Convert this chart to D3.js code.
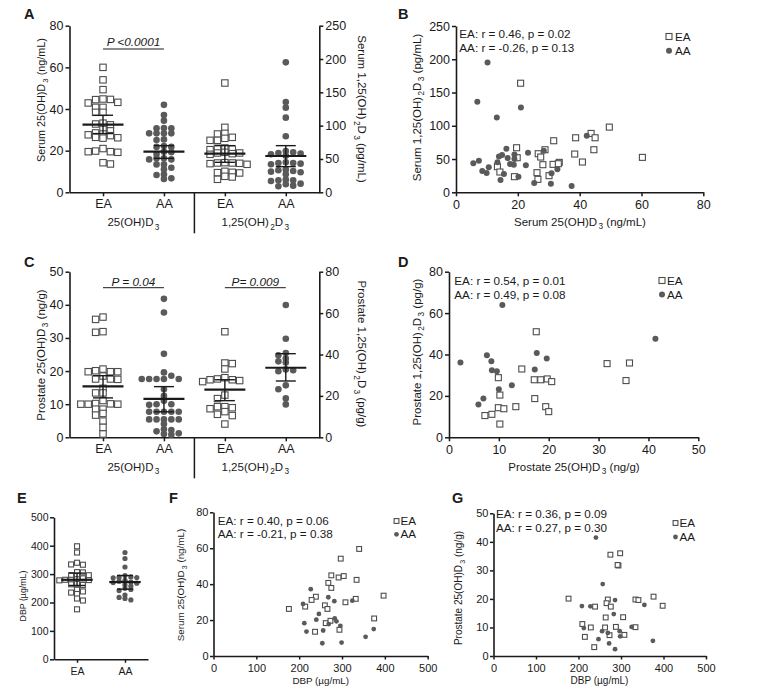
<!DOCTYPE html>
<html><head><meta charset="utf-8">
<script src="https://cdn.jsdelivr.net/npm/d3@7"></script>
<style>body{margin:0;background:#fff} svg{display:block}</style>
</head><body><script>
// ================= DATA =================
const catLabels = ["EA", "AA", "EA", "AA"];
const groupNames = ["25(OH)D_3", "1,25(OH)_2D_3"];
const legendNames = ["EA", "AA"];

// Panel A : serum
const serum25_EA = [60, 54, 49.3, 44.8, 44.6, 44.5, 43.2, 42.9, 40.8, 40.8, 38.4, 38.4, 33.2, 32.8, 32.4, 30.2, 29.5, 28.5, 28.0, 27.6, 27.2, 26.4, 26.2, 26.0, 21.0, 19.8, 19.5, 19.5, 19.2, 14.2, 13.6];
const serum25_AA = [42, 37.1, 34.4, 30.7, 30.7, 30.9, 28.3, 28.3, 28.3, 28.3, 25.1, 25.4, 22.2, 21.8, 21.8, 19.5, 19.2, 18.4, 16.3, 15.8, 16.3, 15.8, 13.4, 13.4, 11.1, 11.8, 8.6, 8.3, 6.4, 6.7];
const serum125_EA = [164, 97.5, 88.5, 87.5, 82.5, 81, 78, 78, 66.5, 66, 65, 64, 60, 59, 59, 58, 57, 44.5, 44, 44, 43.5, 43, 42, 31.5, 30, 29.5, 29, 24, 23, 19.5];
const serum125_AA = [195, 135.5, 127, 112, 84, 62, 60, 59, 58, 57, 55, 45, 44, 44, 43, 42, 34, 33, 32, 31, 30, 27, 19, 18, 18, 17, 13, 12, 10, 9];
const A_mean = [32.5, 19.5, 58, 54.5];
const A_low = [28.2, 16.3, 45, 38.5];
const A_high = [37.0, 22.4, 70, 70];
const A_leftTicks = [0, 20, 40, 60, 80];
const A_rightTicks = [0, 50, 100, 150, 200, 250];
const A_pText = ["P <0.0001"];
const A_leftTitle = "Serum 25(OH)D_3 (ng/mL)";
const A_rightTitle = "Serum 1,25(OH)_2D_3 (pg/mL)";

// Panel B : serum 25 vs serum 1,25
const B_EA_x = [20.9, 49.6, 43.7, 38.7, 45, 31.6, 19.6, 28.8, 44.6, 26.6, 38.4, 27.4, 60.3, 19.8, 13.4, 28.1, 31.4, 33.4, 33.1, 40.9, 14.2, 26.2, 30.1, 18.9, 26.5];
const B_EA_y = [164, 98, 88.5, 82, 82, 77.5, 67, 64, 64, 58, 57.5, 53, 52.5, 52, 38.5, 41.5, 42, 45, 43, 45.5, 30.5, 29.5, 25, 23.5, 19.5];
const B_AA_x = [10.2, 6.9, 21, 13.2, 42.3, 16.3, 23.3, 28.4, 14.9, 18.9, 13.9, 16.7, 18.9, 5.6, 7.4, 13.4, 17.5, 18.7, 22.6, 10.6, 8.5, 9.9, 15.5, 20.2, 14.4, 30.9, 32.8, 25.3, 30.7, 37.4];
const B_AA_y = [195, 136, 127.5, 112.5, 85, 65.5, 59.5, 62.5, 56, 57, 54, 51.5, 50, 43.5, 47.5, 45, 42.5, 41.5, 40.5, 37.5, 32, 29, 27.5, 23.5, 18.5, 28.5, 34.5, 14, 13, 9.5];
const B_stats = ["EA: r = 0.46, p = 0.02", "AA: r = -0.26, p = 0.13"];
const B_xTicks = [0, 20, 40, 60, 80];
const B_yTicks = [0, 50, 100, 150, 200, 250];
const B_xTitle = "Serum 25(OH)D_3 (ng/mL)";
const B_yTitle = "Serum 1,25(OH)_2D_3 (pg/mL)";

// Panel C : prostate
const prost25_EA = [36.3, 35.6, 31.9, 31.7, 20.6, 20.1, 19.8, 19.8, 19.8, 18.5, 17.6, 17.5, 17.6, 14.8, 13.4, 13.4, 11.1, 10.2, 10, 10, 10, 10.1, 8.5, 8.5, 7.2, 6.7, 4.9, 3.0, 1.0];
const prost25_AA = [41.8, 37.7, 25.2, 19.6, 18.6, 17.6, 17.6, 17.6, 17.6, 17.6, 14.5, 12.5, 11, 10, 10, 9.8, 7.7, 7.7, 7.7, 7.7, 7.7, 5.4, 5.4, 5.4, 5.4, 5.4, 4, 2.4, 2.2, 1.8, 1.2, 1, 0.8];
const prost125_EA = [51, 35.6, 35.9, 27.4, 33, 28.8, 27.8, 27.8, 28.2, 26.9, 18.7, 20.4, 14.3, 13.8, 14.8, 14.8, 12.4, 10.5, 11.1, 6.4];
const prost125_AA = [63.9, 47.6, 40.7, 39.6, 38.1, 36.1, 36.7, 32.4, 31.9, 32.8, 23.2, 25.1, 18.8, 15.9];
const C_mean = [15.4, 11.6, 23, 33.6];
const C_low = [11.9, 7.7, 17.7, 27.2];
const C_high = [18.6, 15.3, 27.8, 40.4];
const C_leftTicks = [0, 10, 20, 30, 40, 50];
const C_rightTicks = [0, 20, 40, 60, 80];
const C_pText = ["P = 0.04", "P= 0.009"];
const C_leftTitle = "Prostate 25(OH)D_3 (ng/g)";
const C_rightTitle = "Prostate 1,25(OH)_2D_3 (pg/g)";

// Panel D : prostate 25 vs prostate 1,25 (y values = prost125 arrays)
const D_EA_x = [17.5, 31.7, 36.2, 35.5, 14.6, 9.9, 17.1, 18.4, 19.7, 20.6, 17.2, 10.2, 9.9, 11.0, 13.4, 19.4, 20.0, 7.2, 8.6, 10.2];
const D_AA_x = [10.7, 41.4, 17.6, 7.6, 19.6, 2.3, 8.5, 8.6, 9.6, 17.2, 10.0, 12.6, 6.9, 5.9];
const D_stats = ["EA: r = 0.54, p = 0.01", "AA: r = 0.49, p = 0.08"];
const D_xTicks = [0, 10, 20, 30, 40, 50];
const D_yTicks = [0, 20, 40, 60, 80];
const D_xTitle = "Prostate 25(OH)D_3 (ng/g)";
const D_yTitle = "Prostate 1,25(OH)_2D_3 (pg/g)";

// Panel E : DBP
const dbp_EA = [398, 376, 340, 334, 333, 307, 306, 296, 296, 294, 285, 282, 280, 280, 279, 278, 266, 264, 262, 245, 239, 235, 230, 214, 207, 176];
const dbp_AA = [376, 355, 325, 295, 290, 289, 288, 287, 278, 275, 272, 270, 268, 262, 258, 250, 246, 242, 226, 218, 214, 209];
const E_mean = [280, 272];
const E_low = [260, 247];
const E_high = [303.5, 295];
const E_ticks = [0, 100, 200, 300, 400, 500];
const E_title = "DBP (\u00b5g/mL)";

// Panel F : DBP vs serum 25
const F_EA_x = [340, 297, 275, 292, 304, 334, 268, 275, 239, 229, 308, 332, 397, 176, 214, 260, 266, 262, 273, 375, 237, 294];
const F_EA_y = [59.6, 54.2, 44.9, 43.7, 44.5, 42.4, 40.7, 37.9, 33, 31.2, 29.9, 31.8, 33.6, 26.2, 27.5, 28.2, 26.2, 18.3, 19.6, 20.9, 13.5, 14.6];
const F_AA_x = [227, 268, 282, 324, 209, 246, 240, 283, 287, 269, 296, 212, 217, 256, 254, 299, 355, 374];
const F_AA_y = [37.2, 32.7, 30.5, 30.8, 29, 23.4, 20.2, 20.9, 19.3, 17.8, 16.8, 18.3, 13.6, 14.2, 7.1, 7.5, 10.7, 15];
const F_stats = ["EA: r = 0.40, p = 0.06", "AA: r = -0.21, p = 0.38"];
const F_xTicks = [0, 100, 200, 300, 400, 500];
const F_yTicks = [0, 20, 40, 60, 80];
const F_xTitle = "DBP (\u00b5g/mL)";
const F_yTitle = "Serum 25(OH)D_3 (ng/mL)";

// Panel G : DBP vs prostate 25
const G_EA_x = [275, 298, 294, 292, 176.6, 269, 266, 276, 239, 334, 341, 376.6, 398, 264, 305, 209, 229, 262.5, 288, 334, 273, 308, 215, 237];
const G_EA_y = [35.5, 36, 31.7, 31.9, 20.1, 19.8, 18.5, 17.3, 17.3, 19.8, 19.6, 20.8, 17.6, 13.5, 13.6, 11.2, 10, 10, 10.2, 10.1, 7.3, 7.4, 6.7, 3.1];
const G_AA_x = [241, 257, 286, 208, 228, 355, 283, 212.5, 325, 255.5, 269, 297, 298, 247, 272, 286, 375];
const G_AA_y = [41.5, 25.2, 19.6, 17.5, 17.4, 17.9, 14.7, 9.8, 10.2, 8.7, 8.1, 8.7, 6.9, 5.9, 4.4, 2.4, 5.3];
const G_stats = ["EA: r = 0.36, p = 0.09", "AA: r = 0.27, p = 0.30"];
const G_xTicks = [0, 100, 200, 300, 400, 500];
const G_yTicks = [0, 10, 20, 30, 40, 50];
const G_xTitle = "DBP (\u00b5g/mL)";
const G_yTitle = "Prostate 25(OH)D_3 (ng/g)";

// ================= DRAWING =================
const FONT = '"Liberation Sans", Arial, Helvetica, sans-serif';
const INK = "#1a1a1a";
const SQ = "#4d4d4d";
const DOT = "#5a5a5a";

const svg = d3.select("body").append("svg").attr("width", 763).attr("height", 700)
  .style("font-family", FONT);

function rich(t, str, fs) {
  const parts = str.split(/(_[0-9])/);
  let shifted = false;
  parts.forEach(p => {
    if (!p) return;
    if (p[0] === "_") {
      t.append("tspan").attr("font-size", fs * 0.72).attr("dx", fs * 0.12).attr("dy", fs * 0.28).text(p.slice(1));
      shifted = true;
    } else {
      const s = t.append("tspan").text(p);
      if (shifted) { s.attr("dy", -fs * 0.28); shifted = false; }
    }
  });
}
function label(x, y, str, o = {}) {
  const fs = o.fs || 12;
  const t = svg.append("text").attr("x", x).attr("y", y).attr("font-size", fs)
    .attr("text-anchor", o.anchor || "start").attr("fill", INK).attr("font-family", FONT);
  if (o.rotate) t.attr("transform", `rotate(${o.rotate},${x},${y})`);
  if (o.weight) t.attr("font-weight", o.weight);
  if (o.italic) t.attr("font-style", "italic");
  rich(t, str, fs);
  return t;
}
function styleAxis(g, fs) {
  g.attr("font-family", FONT).attr("font-size", fs);
  g.select(".domain").attr("stroke", INK).attr("stroke-width", 1.6);
  g.selectAll(".tick line").attr("stroke", INK).attr("stroke-width", 1.5);
  g.selectAll(".tick text").attr("fill", INK);
}
function square(parent, cx, cy, s) {
  parent.append("rect").attr("x", cx - s / 2).attr("y", cy - s / 2).attr("width", s).attr("height", s)
    .attr("fill", "#fff").attr("stroke", SQ).attr("stroke-width", 1.1);
}
function dot(parent, cx, cy, r) {
  parent.append("circle").attr("cx", cx).attr("cy", cy).attr("r", r).attr("fill", DOT);
}
// Scatter-dot layout: each point goes to the nearest free slot (half-marker steps) beside the
// category centre; points may overlap vertically by up to ~45 % like the GraphPad original.
function swarm(values, scale, cx, size) {
  const pts = values.map(v => ({ v, y: scale(v) })).sort((a, b) => a.y - b.y);
  const placed = [];
  const dyMin = size * 0.55;
  pts.forEach((p, idx) => {
    const sgn = idx % 2 ? -1 : 1;
    const cand = [0];
    for (let k = 1; k < 60; k++) cand.push(sgn * k * size / 2, -sgn * k * size / 2);
    for (const off of cand) {
      const x = cx + off;
      if (placed.every(q => Math.abs(q.x - x) >= size - 0.01 || Math.abs(q.y - p.y) >= dyMin)) {
        p.x = x; placed.push(p); break;
      }
    }
  });
  return pts;
}

function dotPlot(c) {
  const xs = d3.scalePoint().domain(d3.range(c.cats.length)).range([c.x0, c.x1]).padding(c.pad);
  const yL = d3.scaleLinear().domain(c.leftDom).range([c.y1, c.y0]);
  const yR = c.rightDom ? d3.scaleLinear().domain(c.rightDom).range([c.y1, c.y0]) : null;
  const gx = svg.append("g").attr("transform", `translate(0,${c.y1})`)
    .call(d3.axisBottom(xs).tickSize(c.xTick).tickPadding(c.xPad).tickSizeOuter(0).tickFormat(i => c.cats[i]));
  styleAxis(gx, c.xFs);
  const gl = svg.append("g").attr("transform", `translate(${c.x0},0)`)
    .call(d3.axisLeft(yL).tickValues(c.leftTicks).tickSize(c.yTick).tickPadding(c.yPad).tickSizeOuter(0));
  styleAxis(gl, c.yFs);
  if (yR) {
    const gr = svg.append("g").attr("transform", `translate(${c.x1},0)`)
      .call(d3.axisRight(yR).tickValues(c.rightTicks).tickSize(c.yTick).tickPadding(c.yPad).tickSizeOuter(0));
    styleAxis(gr, c.yFs);
  }
  const g = svg.append("g");
  c.groups.forEach((grp, i) => {
    const ys = grp.right ? yR : yL;
    const pts = swarm(grp.values, ys, xs(i), c.spacing);
    pts.forEach(p => grp.shape === "sq" ? square(g, p.x, p.y, c.sq) : dot(g, p.x, p.y, c.r));
  });
  c.groups.forEach((grp, i) => {
    const ys = grp.right ? yR : yL;
    const cx = xs(i);
    g.append("line").attr("x1", cx).attr("x2", cx).attr("y1", ys(c.low[i])).attr("y2", ys(c.high[i]))
      .attr("stroke", INK).attr("stroke-width", 1.4);
    [c.low[i], c.high[i]].forEach(v => g.append("line").attr("x1", cx - c.capW).attr("x2", cx + c.capW)
      .attr("y1", ys(v)).attr("y2", ys(v)).attr("stroke", INK).attr("stroke-width", 1.4));
    g.append("line").attr("x1", cx - c.meanW).attr("x2", cx + c.meanW).attr("y1", ys(c.mean[i])).attr("y2", ys(c.mean[i]))
      .attr("stroke", INK).attr("stroke-width", 2.2);
  });
  return xs;
}

function scatter(c) {
  const xs = d3.scaleLinear().domain(c.xDom).range([c.x0, c.x1]);
  const ys = d3.scaleLinear().domain(c.yDom).range([c.y1, c.y0]);
  const gx = svg.append("g").attr("transform", `translate(0,${c.y1})`)
    .call(d3.axisBottom(xs).tickValues(c.xTicks).tickSize(c.tick).tickPadding(c.xPad).tickSizeOuter(0));
  styleAxis(gx, c.fs);
  const gy = svg.append("g").attr("transform", `translate(${c.x0},0)`)
    .call(d3.axisLeft(ys).tickValues(c.yTicks).tickSize(c.tick).tickPadding(c.yPad).tickSizeOuter(0));
  styleAxis(gy, c.fs);
  const g = svg.append("g");
  c.eaX.forEach((v, i) => square(g, xs(v), ys(c.eaY[i]), c.sq));
  c.aaX.forEach((v, i) => dot(g, xs(v), ys(c.aaY[i]), c.r));
  c.stats.forEach((s, i) => label(c.statX, c.statY + i * c.statDy, s, { fs: c.statFs }));
  square(g, c.legX, c.legY - 4, c.sq);
  label(c.legX + c.legDx, c.legY, legendNames[0], { fs: c.legFs });
  dot(g, c.legX, c.legY + c.statDy - 4, c.r);
  label(c.legX + c.legDx, c.legY + c.statDy, legendNames[1], { fs: c.legFs });
  label(c.xTitleX, c.xTitleY, c.xTitle, { fs: c.titleFs, anchor: "middle" });
  label(c.yTitleX, c.yTitleY, c.yTitle, { fs: c.titleFs, anchor: "middle", rotate: -90 });
}

// ---------- Panel A ----------
{
  const c = {
    cats: catLabels, x0: 69.5, x1: 319.3, y0: 25.7, y1: 192.3, pad: 0.55,
    leftDom: [0, 80], rightDom: [0, 250], leftTicks: A_leftTicks, rightTicks: A_rightTicks,
    xTick: 4, xPad: 3, xFs: 12.5, yTick: 4, yPad: 2, yFs: 12.5,
    sq: 6.4, r: 3.3, spacing: 7.4, meanW: 20.5, capW: 10,
    mean: A_mean, low: A_low, high: A_high,
    groups: [
      { values: serum25_EA, shape: "sq" }, { values: serum25_AA, shape: "dot" },
      { values: serum125_EA, shape: "sq", right: true }, { values: serum125_AA, shape: "dot", right: true }]
  };
  const xs = dotPlot(c);
  const mid = (xs(1) + xs(2)) / 2;
  svg.append("line").attr("x1", mid).attr("x2", mid).attr("y1", c.y1).attr("y2", c.y1 + 41).attr("stroke", INK).attr("stroke-width", 1.5);
  label((xs(0) + xs(1)) / 2, c.y1 + 34, groupNames[0], { fs: 11.5, anchor: "middle" });
  label((xs(2) + xs(3)) / 2, c.y1 + 34, groupNames[1], { fs: 11.5, anchor: "middle" });
  svg.append("line").attr("x1", xs(0)).attr("x2", xs(1)).attr("y1", 49).attr("y2", 49).attr("stroke", INK).attr("stroke-width", 1);
  label((xs(0) + xs(1)) / 2, 45.5, A_pText[0], { fs: 11.8, anchor: "middle", italic: true });
  label(45, 100, A_leftTitle, { fs: 10.8, anchor: "middle", rotate: -90 });
  label(357.5, 109, A_rightTitle, { fs: 11.5, anchor: "middle", rotate: 90 });
  label(24, 18.5, "A", { fs: 14.5, weight: "bold" });
}
// ---------- Panel B ----------
scatter({
  x0: 456, x1: 703.3, y0: 26, y1: 192.3, xDom: [0, 80], yDom: [0, 250], xTicks: B_xTicks, yTicks: B_yTicks,
  tick: 4, xPad: 3.5, yPad: 2, fs: 12.5, sq: 6, r: 3,
  eaX: B_EA_x, eaY: B_EA_y, aaX: B_AA_x, aaY: B_AA_y,
  stats: B_stats, statX: 459.3, statY: 37.5, statDy: 14.3, statFs: 11.7,
  legX: 669, legY: 40.5, legDx: 6, legFs: 11.7,
  xTitle: B_xTitle, xTitleX: 580, xTitleY: 226, yTitle: B_yTitle, yTitleX: 421, yTitleY: 107.5, titleFs: 11.5
});
label(398, 18.5, "B", { fs: 14.5, weight: "bold" });

// ---------- Panel C ----------
{
  const c = {
    cats: catLabels, x0: 69.5, x1: 319.3, y0: 271.7, y1: 437.3, pad: 0.55,
    leftDom: [0, 50], rightDom: [0, 80], leftTicks: C_leftTicks, rightTicks: C_rightTicks,
    xTick: 4, xPad: 3, xFs: 12.5, yTick: 4, yPad: 2, yFs: 12.5,
    sq: 6.4, r: 3.3, spacing: 7.4, meanW: 20.5, capW: 10,
    mean: C_mean, low: C_low, high: C_high,
    groups: [
      { values: prost25_EA, shape: "sq" }, { values: prost25_AA, shape: "dot" },
      { values: prost125_EA, shape: "sq", right: true }, { values: prost125_AA, shape: "dot", right: true }]
  };
  const xs = dotPlot(c);
  const mid = (xs(1) + xs(2)) / 2;
  svg.append("line").attr("x1", mid).attr("x2", mid).attr("y1", c.y1).attr("y2", c.y1 + 41).attr("stroke", INK).attr("stroke-width", 1.5);
  label((xs(0) + xs(1)) / 2, c.y1 + 33.5, groupNames[0], { fs: 11.5, anchor: "middle" });
  label((xs(2) + xs(3)) / 2, c.y1 + 33.5, groupNames[1], { fs: 11.5, anchor: "middle" });
  [[0, 1], [2, 3]].forEach((pr, k) => {
    svg.append("line").attr("x1", xs(pr[0])).attr("x2", xs(pr[1])).attr("y1", 287.7).attr("y2", 287.7).attr("stroke", INK).attr("stroke-width", 1);
    label((xs(pr[0]) + xs(pr[1])) / 2, 285.5, C_pText[k], { fs: 11.8, anchor: "middle", italic: true });
  });
  label(45, 355, C_leftTitle, { fs: 11.5, anchor: "middle", rotate: -90 });
  label(357.5, 354, C_rightTitle, { fs: 11.5, anchor: "middle", rotate: 90 });
  label(24, 266.7, "C", { fs: 14.5, weight: "bold" });
}
// ---------- Panel D ----------
scatter({
  x0: 449, x1: 698.3, y0: 271.7, y1: 437.3, xDom: [0, 50], yDom: [0, 80], xTicks: D_xTicks, yTicks: D_yTicks,
  tick: 4, xPad: 3.5, yPad: 2, fs: 12.5, sq: 6, r: 3,
  eaX: D_EA_x, eaY: prost125_EA, aaX: D_AA_x, aaY: prost125_AA,
  stats: D_stats, statX: 454.3, statY: 285, statDy: 14, statFs: 11.7,
  legX: 662, legY: 284.5, legDx: 5, legFs: 11.7,
  xTitle: D_xTitle, xTitleX: 574, xTitleY: 470.5, yTitle: D_yTitle, yTitleX: 421, yTitleY: 352, titleFs: 11.5
});
label(398, 266.7, "D", { fs: 14.5, weight: "bold" });

// ---------- Panel E ----------
{
  const c = {
    cats: legendNames, x0: 54, x1: 148, y0: 517.3, y1: 659.3, pad: 0.48,
    leftDom: [0, 500], leftTicks: E_ticks,
    xTick: 3.5, xPad: 5, xFs: 10.5, yTick: 4, yPad: 1.5, yFs: 10.5,
    sq: 5, r: 2.6, spacing: 5.9, meanW: 15.7, capW: 8,
    mean: E_mean, low: E_low, high: E_high,
    groups: [{ values: dbp_EA, shape: "sq" }, { values: dbp_AA, shape: "dot" }]
  };
  dotPlot(c);
  label(26, 596, E_title, { fs: 8.8, anchor: "middle", rotate: -90 });
  label(17, 502.7, "E", { fs: 14.5, weight: "bold" });
}
// ---------- Panel F ----------
scatter({
  x0: 213.5, x1: 427.7, y0: 512.3, y1: 656, xDom: [0, 500], yDom: [0, 80], xTicks: F_xTicks, yTicks: F_yTicks,
  tick: 3.5, xPad: 5, yPad: 1.5, fs: 11, sq: 4.8, r: 2.4,
  eaX: F_EA_x, eaY: F_EA_y, aaX: F_AA_x, aaY: F_AA_y,
  stats: F_stats, statX: 217.7, statY: 525, statDy: 13.3, statFs: 11.7,
  legX: 396.5, legY: 525, legDx: 4, legFs: 11.7,
  xTitle: F_xTitle, xTitleX: 320.7, xTitleY: 684, yTitle: F_yTitle, yTitleX: 184, yTitleY: 585, titleFs: 9.8
});
label(169, 502.7, "F", { fs: 14.5, weight: "bold" });

// ---------- Panel G ----------
scatter({
  x0: 493.5, x1: 706, y0: 513.3, y1: 656, xDom: [0, 500], yDom: [0, 50], xTicks: G_xTicks, yTicks: G_yTicks,
  tick: 3.5, xPad: 5, yPad: 1.5, fs: 11, sq: 4.8, r: 2.4,
  eaX: G_EA_x, eaY: G_EA_y, aaX: G_AA_x, aaY: G_AA_y,
  stats: G_stats, statX: 496, statY: 518.3, statDy: 14, statFs: 11.7,
  legX: 675.5, legY: 527, legDx: 4, legFs: 11.7,
  xTitle: G_xTitle, xTitleX: 599.5, xTitleY: 684, yTitle: G_yTitle, yTitleX: 462, yTitleY: 588, titleFs: 10
});
label(452, 502.7, "G", { fs: 14.5, weight: "bold" });
</script></body></html>
